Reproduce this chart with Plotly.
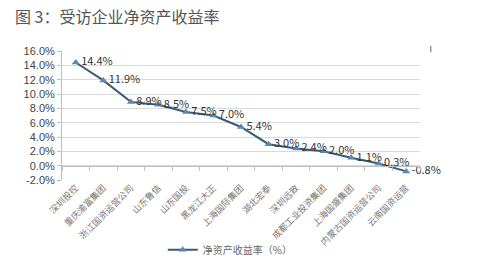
import plotly.graph_objects as go

categories = ["深圳投控", "重庆渝富集团", "浙江国资运营公司", "山东鲁信", "山东国投", "黑龙江大正",
              "上海国际集团", "湖北宏泰", "深圳远致", "成都工业投资集团", "上海国盛集团",
              "内蒙古国资运营公司", "云南国资运营"]
roe = [14.4, 11.9, 8.9, 8.5, 7.5, 7.0, 5.4, 3.0, 2.4, 2.0, 1.1, 0.3, -0.8]
y_ticks = [-2, 0, 2, 4, 6, 8, 10, 12, 14, 16]
series_name = "净资产收益率（%）"
title_text = "图 3：受访企业净资产收益率"

CJK = "Noto Sans CJK SC"

fig = go.Figure()
fig.add_trace(go.Scatter(
    x=categories, y=roe, mode="lines+markers+text", name=series_name,
    line=dict(color="#3b5a78", width=2),
    marker=dict(symbol="triangle-up", size=7, color="#5b86b0"),
    text=[f"{v:.1f}%" for v in roe], textposition="middle right",
    textfont=dict(family=CJK, size=11, color="#333333"),
    cliponaxis=False,
))
# invisible trace for the zero-crossing axis with boundary ticks
fig.add_trace(go.Scatter(x=categories, y=roe, xaxis="x2", mode="markers",
                         marker=dict(opacity=0), showlegend=False, hoverinfo="skip"))

fig.update_layout(
    width=500, height=272,
    margin=dict(l=62, r=80, t=51, b=92, autoexpand=False),
    paper_bgcolor="white", plot_bgcolor="white",
    font=dict(family=CJK, color="#444444"),
    title=dict(text=title_text, x=0.03, xanchor="left", y=0.935, yanchor="middle",
               font=dict(family=CJK, size=16, color="#555555")),
    xaxis=dict(type="category", showgrid=False, showline=False, ticks="", automargin=False,
               tickangle=-45, tickfont=dict(family=CJK, size=9, color="#777777"),
               range=[-0.5, len(categories) - 0.5]),
    xaxis2=dict(type="category", overlaying="x", anchor="free", position=2 / 18,
                side="bottom", showgrid=False, showline=True, linecolor="#bfbfbf",
                ticks="outside", ticklen=4, tickcolor="#bfbfbf", tickson="boundaries",
                showticklabels=False, range=[-0.5, len(categories) - 0.5]),
    yaxis=dict(range=[-2, 16], tickvals=y_ticks, ticktext=[f"{v:.1f}%" for v in y_ticks],
               showgrid=True, gridcolor="#d9d9d9", gridwidth=1, zeroline=False, automargin=False,
               showline=True, linecolor="#bfbfbf", ticks="outside", ticklen=4,
               tickcolor="#bfbfbf", tickfont=dict(family="Liberation Sans", size=11, color="#444444")),
    showlegend=True,
    legend=dict(orientation="h", x=0.47, xanchor="center", y=-0.54, yanchor="middle",
                font=dict(family=CJK, size=10, color="#666666"), bgcolor="rgba(0,0,0,0)"),
    shapes=[dict(type="line", xref="paper", yref="paper", x0=1.03, x1=1.03, y0=0.99, y1=1.04,
                 line=dict(color="#999999", width=1.5))],
)

fig.write_html("out.html")
